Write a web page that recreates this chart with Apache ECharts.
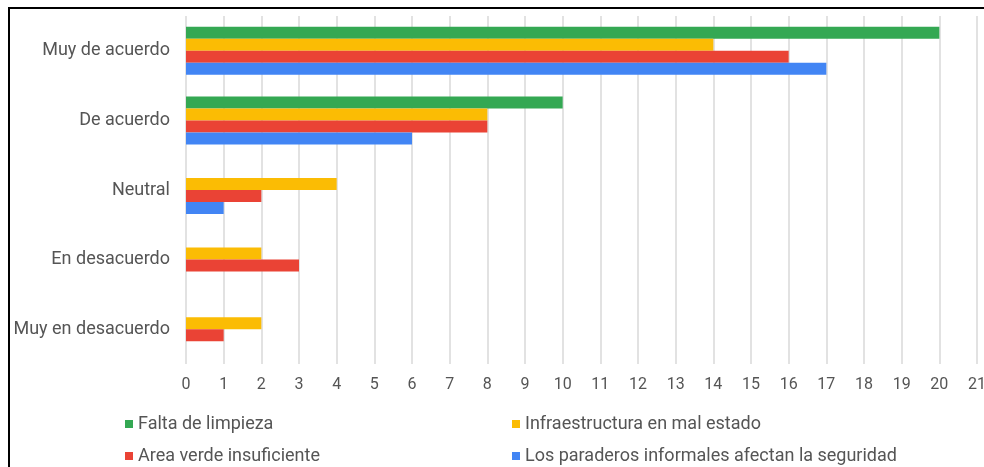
<!DOCTYPE html>
<html>
<head>
<meta charset="utf-8">
<script src="https://cdn.jsdelivr.net/npm/echarts@6/dist/echarts.min.js"></script>
<style>
  html, body { margin: 0; padding: 0; background: #fff; overflow: hidden; }
  #chart { width: 984px; height: 467px; }
</style>
</head>
<body>
<div id="chart"></div>
<script>
// Survey responses per agreement level
const categories = ['Muy de acuerdo', 'De acuerdo', 'Neutral', 'En desacuerdo', 'Muy en desacuerdo'];
const seriesNames = [
  'Falta de limpieza',
  'Infraestructura en mal estado',
  'Area verde insuficiente',
  'Los paraderos informales afectan la seguridad'
];
const faltaLimpieza = [20, 10, 0, 0, 0];
const infraestructura = [14, 8, 4, 2, 2];
const areaVerde = [16, 8, 2, 3, 1];
const paraderos = [17, 6, 1, 0, 0];
const xTicks = [0, 21, 1]; // min, max, step

const colors = ['#34a853', '#fbbc04', '#ea4335', '#4285f4'];
const values = [faltaLimpieza, infraestructura, areaVerde, paraderos];
const textColor = '#555555';
const font = 'Roboto, "Liberation Sans", Arial, sans-serif';

// legend laid out in two columns, two rows
const legendSlots = [
  { left: 125, top: 415 },
  { left: 512, top: 415 },
  { left: 125, top: 447 },
  { left: 512, top: 447 }
];

const chart = echarts.init(document.getElementById('chart'), null, { renderer: 'canvas' });

chart.setOption({
  animation: false,
  backgroundColor: '#ffffff',
  grid: { left: 186, right: 7, top: 16, bottom: 103, containLabel: false, outerBoundsMode: 'none' },
  xAxis: {
    type: 'value',
    min: xTicks[0],
    max: xTicks[1],
    interval: xTicks[2],
    axisLine: { show: false },
    axisTick: { show: false },
    axisLabel: { color: textColor, fontFamily: font, fontSize: 16, margin: 13 },
    splitLine: { show: true, lineStyle: { color: '#d9d9d9', width: 1.5 } }
  },
  yAxis: {
    type: 'category',
    data: categories,
    inverse: true,
    axisLine: { show: false },
    axisTick: { show: false },
    axisLabel: { color: textColor, fontFamily: font, fontSize: 18, margin: 16 }
  },
  legend: seriesNames.map((name, i) => ({
    data: [name],
    left: legendSlots[i].left,
    top: legendSlots[i].top,
    padding: 0,
    itemWidth: 8,
    itemHeight: 8,
    icon: 'rect',
    textStyle: { color: textColor, fontFamily: font, fontSize: 18 }
  })),
  series: seriesNames.map((name, i) => ({
    name: name,
    type: 'bar',
    data: values[i],
    barWidth: 12,
    barGap: '0%',
    itemStyle: { color: colors[i] }
  })),
  graphic: [
    {
      type: 'line',
      shape: { x1: 8, y1: 8, x2: 984, y2: 8 },
      style: { stroke: '#000', lineWidth: 2 },
      z: 100
    },
    {
      type: 'line',
      shape: { x1: 9, y1: 8, x2: 9, y2: 467 },
      style: { stroke: '#000', lineWidth: 2 },
      z: 100
    }
  ]
});
</script>
</body>
</html>
